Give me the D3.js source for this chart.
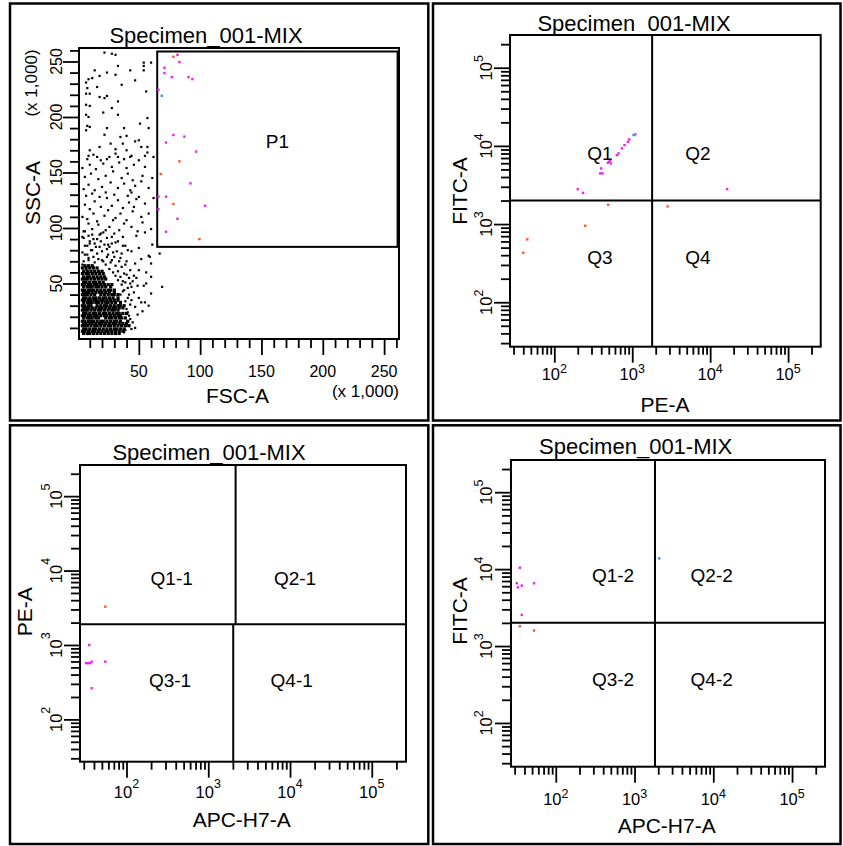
<!DOCTYPE html>
<html>
<head>
<meta charset="utf-8">
<script src="https://cdn.jsdelivr.net/npm/d3@7"></script>
<style>
  body { margin: 0; background: #fff; }
  svg { display: block; }
  text { font-family: "Liberation Sans", Arial, sans-serif; fill: #000; }
</style>
</head>
<body>
<svg width="843" height="846"></svg>
<script>
const svg = d3.select('svg');

// ---------- data ----------
const specimen = 'Specimen_001-MIX';
const linTicks = [50, 100, 150, 200, 250]; // FSC-A / SSC-A, (x 1,000)
const decades = [2, 3, 4, 5];              // 10^n on the log axes
const logDomain = [27, 262144];

// P1 gate: FSC from..to, SSC from..to (x 1,000)
const gateP1 = [65, 261, 83, 259];

// quadrant splits: [x upper half, x lower half, y]
const quadP2 = [1800, 1800, 2000];
const quadP3 = [2160, 2020, 1900];
const quadP4 = [1820, 1820, 2010];
const namesP2 = ['Q1', 'Q2', 'Q3', 'Q4'];
const namesP3 = ['Q1-1', 'Q2-1', 'Q3-1', 'Q4-1'];
const namesP4 = ['Q1-2', 'Q2-2', 'Q3-2', 'Q4-2'];

// panel 1 events, [FSC, SSC] x 1,000
const p1Sparse = [
  [22,258],[28,257],[31,256],[60,249],[54,249],[54,246],[54,242],[33,246],[43,242],[14,242],
  [24,240],[31,238],[18,237],[9,234],[12,235],[7,231],[47,233],[36,229],[8,226],[16,227],
  [56,223],[7,221],[18,218],[22,217],[24,219],[10,221],[33,214],[7,211],[10,210],[28,208],
  [21,204],[33,202],[7,202],[9,200],[57,199],[51,194],[38,190],[58,190],[24,190],[8,192],
  [10,191],[7,188],[22,184],[35,182],[40,183],[47,178],[27,176],[37,176],[50,179],[57,173],
  [18,173],[31,171],[40,170],[52,173],[10,170],[9,165],[16,164],[24,162],[33,164],[43,164],
  [55,165],[62,164],
  [8,162],[13,166],[19,161],[26,164],[31,167],[38,162],[44,165],[50,161],[57,168],
  [4,154],[10,157],[15,153],[21,158],[28,155],[34,159],[40,154],[46,157],[55,155],
  [6,146],[11,149],[17,144],[23,147],[29,151],[36,145],[41,149],[45,143],[53,147],[61,145],
  [5,135],[9,139],[14,134],[20,137],[27,141],[33,136],[38,140],[43,134],[47,138],[52,142],[58,136],
  [7,129],[12,131],[18,128],[23,132],[30,130],[41,129],[44,132],[50,128],[62,127],
  [6,121],[10,117],[14,124],[19,119],[24,127],[28,120],[33,125],[37,118],[42,123],[46,119],
  [48,126],[55,122],
  [4,110],[8,108],[13,113],[16,106],[22,111],[25,116],[31,109],[35,113],[40,107],[45,115],
  [52,110],[58,113],
  [5,97],[9,104],[12,99],[17,103],[21,96],[26,101],[29,107],[34,98],[38,104],[44,101],
  [49,97],[53,105],[60,99],
  [5,91],[9,93],[13,90],[18,94],[24,91],[30,95],[37,92],[48,93],[55,96],
  [6,84],[10,86],[15,83],[19,88],[25,85],[31,87],[39,84],[50,82],[61,85],
  [4,78],[8,76],[12,80],[16,77],[20,79],[24,81],[29,78],[36,77],[44,79],[58,75],
  [5,70],[9,73],[14,69],[17,72],[21,70],[24,74],[28,71],[35,73],[40,70],[47,68],[52,72],
  [38,44],[41,46],[36,49],[33,53],[39,51],[43,50],[31,57],[35,56],[29,60],[26,63],
  [33,61],[38,59],[42,55],[45,52],[23,67],[27,69],[31,66],[36,65],[20,71],[25,76],
  [30,74],[34,70],[39,67],[43,62],[46,57],[49,48],[41,37],[43,31],[40,27],[42,21],
  [41,16],[44,9],[38,6],[37,43],[35,40],[39,34],[4,67],[7,63],[9,71],[13,74],
  [6,76],[11,80],[8,84],[14,86],[18,83],[22,85],[26,83],[16,90],[12,94],[6,97],
  [19,95],[23,98],[28,92],[33,88],[37,84],[41,80],[32,79],[28,86],[10,88],[4,92],
  [67,77],[69,47],[59,74],[60,68],[60,56],[56,50],[54,48],[60,41],[55,33],[47,29],
  [45,15],[50,37],[46,42],[58,30],[53,25],[49,22],[43,18],[40,12],[47,10],[52,33],
  [42,40],[56,60],[48,55],[44,47],[41,24],[39,8],[44,35],[37,52],[40,58],[50,62]
];
// dense core: [SSC, [FSC ...]]
const p1CoreRows = [
  [5, [5,8,10,13,16,19,22,25,28,31,34]],
  [7, [4,6,9,12,14,17,20,23,25,28,31,34,37]],
  [9, [5,7,10,13,15,18,21,24,27,30,32,35,38]],
  [12, [4,6,8,11,14,16,19,22,25,27,30,33,36,39,42]],
  [14, [5,7,10,12,15,18,20,23,26,29,31,34,37,40]],
  [16, [4,6,9,11,13,16,19,21,24,27,30,32,35,41]],
  [19, [5,8,10,12,15,17,23,26,28,31,34,36,39]],
  [21, [4,6,9,11,14,16,19,22,24,27,30,33,35]],
  [23, [5,7,10,13,15,18,21,23,26,29,32,34,37,40]],
  [26, [4,6,8,11,14,17,19,22,25,28,30,33]],
  [28, [5,7,9,12,15,18,20,23,26,29,31,34,37]],
  [30, [4,6,9,11,16,19,22,24,27,30,33,35,38]],
  [33, [5,8,10,12,15,17,20,23,25,28,31,35]],
  [35, [4,6,9,11,14,16,19,21,24,27,30,33]],
  [37, [5,7,10,13,15,18,21,23,26,29,33]],
  [40, [4,6,8,11,14,19,22,25,28,30,33]],
  [42, [5,7,9,12,15,18,20,23,26,30]],
  [44, [4,6,9,11,13,16,19,22,25,27,30]],
  [47, [5,8,10,12,15,17,20,23,27]],
  [49, [4,6,9,11,14,16,19,22,25,28]],
  [51, [5,7,10,13,15,18,21]],
  [54, [4,6,8,11,14,17,20,23]],
  [56, [5,8,10,13,16,19,22]],
  [59, [4,7,9,12,15,18,21]],
  [61, [5,8,11,14,17,20]],
  [64, [4,7,10,13,16]],
  [66, [6,9,12]]
];
const p1Magenta = [[81.5,256],[83.1,249.5],[70.9,244.3],[70.9,239.5],[76.9,235.9],[90.5,235.9],
  [93.7,234.1],[66,224.5],[78.2,183.8],[87.2,182.3],[72.2,177],[96.7,168.8],[92.1,140.2],
  [66,128.2],[72.2,128.2],[104.1,120],[66,117],[81.5,108.3],[72.2,96.6]];
const p1Orange = [[78.2,254.2],[83.1,160],[67.9,148.6],[78.2,121.6],[99.4,90]];
const p1Blue = [[68.7,219.1]];

// panel 2: [PE-A, FITC-A]
const p2Magenta = [[1094,14030],[916,12100],[881,11300],[796,10230],[738,9290],[667,8020],
  [635,7620],[521,6580],[506,6260],[532,5970],[487,6090],[399,5150],[388,4450],[415,4450],
  [200,2800],[234,2510],[16500,2800]];
const p2Orange = [[491,1766],[249,951],[2843,1683],[45,637],[40,430]];
const p2Blue = [[1040,13750]];

// panel 3: [APC-H7-A, PE-A]
const p3Magenta = [[35,1000],[32,570],[34,570],[36,570],[37.5,596],[55,596],[37.5,262]];
const p3Orange = [[55,3270]];

// panel 4: [APC-H7-A, FITC-A]
const p4Magenta = [[35,10440],[32,6550],[33,5800],[37,6100],[53,6550],[37,2540]];
const p4Orange = [[35,1810],[53,1590]];
const p4Blue = [[2060,13800]];

const MAGENTA = '#ee22ee', ORANGE = '#ff5522', BLUE = '#3a8cff';

// ---------- helpers ----------
const border = (b) => svg.append('rect')
  .attr('x', b[0]).attr('y', b[1]).attr('width', b[2] - b[0]).attr('height', b[3] - b[1])
  .attr('fill', 'none').attr('stroke', '#000').attr('stroke-width', 2.5);

const tickMarks = (g, axis, values, size) => {
  g.call(axis.tickValues(values).tickSize(size).tickFormat(''))
    .call(a => a.select('.domain').remove())
    .call(a => a.selectAll('line').attr('stroke', '#000').attr('stroke-width', 1.8));
};

const dots = (g, x, y, pts, color, size) => {
  g.append('g').selectAll('rect').data(pts).join('rect')
    .attr('x', d => x(d[0]) - size / 2)
    .attr('y', d => y(d[1]) - size / 2)
    .attr('width', size).attr('height', size)
    .attr('fill', color);
};

const label = (g, txt, x, y, size, anchor = 'middle') =>
  g.append('text').attr('x', x).attr('y', y).attr('font-size', size)
    .attr('text-anchor', anchor).text(txt);

const rotLabel = (g, txt, x, y, size) =>
  g.append('text').attr('transform', `translate(${x},${y}) rotate(-90)`)
    .attr('font-size', size).attr('text-anchor', 'middle').text(txt);

const supLabel = (g, transform, exp, raise) => {
  const t = g.append('text').attr('transform', transform)
    .attr('font-size', 16.5).attr('text-anchor', 'middle');
  t.append('tspan').text('10');
  t.append('tspan').attr('font-size', 12.5).attr('dy', -raise).text(exp);
};

// ---------- panel 1 (FSC-A vs SSC-A) ----------
(function () {
  const L = { box: [10, 3.5, 428.3, 420.5], frame: [79, 48, 399, 339] };
  const g = svg.append('g');
  border(L.box);
  const x = d3.scaleLinear().domain([0, 262.144]).range([77.5, 399]);
  const y = d3.scaleLinear().domain([0, 262.144]).range([339, 48]);

  const minors = x.ticks(26).filter(v => v > 0 && !linTicks.includes(v));
  tickMarks(g.append('g').attr('transform', 'translate(0,339)'), d3.axisBottom(x), minors, 9);
  tickMarks(g.append('g').attr('transform', 'translate(0,339)'), d3.axisBottom(x), linTicks, 16);
  tickMarks(g.append('g').attr('transform', 'translate(79,0)'), d3.axisLeft(y), minors, 9);
  tickMarks(g.append('g').attr('transform', 'translate(79,0)'), d3.axisLeft(y), linTicks, 16);

  linTicks.forEach(v => label(g, v, x(v), 377, 16));
  linTicks.forEach(v => rotLabel(g, v, 62, y(v), 16));

  const core = p1CoreRows.flatMap(([s, fs]) => fs.map(f => [f, s]));
  dots(g, x, y, p1Sparse, '#000', 2.2);
  dots(g, x, y, core, '#000', 3.2);

  g.append('rect')
    .attr('x', x(gateP1[0])).attr('y', y(gateP1[3]))
    .attr('width', x(gateP1[1]) - x(gateP1[0])).attr('height', y(gateP1[2]) - y(gateP1[3]))
    .attr('fill', 'none').attr('stroke', '#000').attr('stroke-width', 2);

  dots(g, x, y, p1Orange, ORANGE, 2.4);
  dots(g, x, y, p1Magenta, MAGENTA, 2.4);
  dots(g, x, y, p1Blue, BLUE, 2.4);

  g.append('rect').attr('x', L.frame[0]).attr('y', L.frame[1])
    .attr('width', L.frame[2] - L.frame[0]).attr('height', L.frame[3] - L.frame[1])
    .attr('fill', 'none').attr('stroke', '#000').attr('stroke-width', 2);

  label(g, 'P1', (x(gateP1[0]) + x(gateP1[1])) / 2, (y(gateP1[2]) + y(gateP1[3])) / 2 - 1, 19);
  label(g, specimen, 206, 43, 22);
  label(g, 'FSC-A', 237.5, 403, 21);
  label(g, '(x 1,000)', 399, 397, 17, 'end');
  rotLabel(g, 'SSC-A', 40, 193, 21);
  rotLabel(g, '(x 1,000)', 37, 83, 17);
})();

// ---------- log panels ----------
function logPanel(L, quad, names, series) {
  const g = svg.append('g');
  border(L.box);
  const [x0, y0, x1, y1] = L.frame;
  const x = d3.scaleLog().domain(logDomain).range([x0, x1]);
  const y = d3.scaleLog().domain(logDomain).range([y1, y0]);
  const majors = decades.map(d => 10 ** d);
  const minorsX = x.ticks().filter(v => v >= logDomain[0] && !majors.includes(v));
  const minorsY = y.ticks().filter(v => v >= logDomain[0] && !majors.includes(v));

  tickMarks(g.append('g').attr('transform', `translate(0,${y1})`), d3.axisBottom(x), minorsX, 8);
  tickMarks(g.append('g').attr('transform', `translate(0,${y1})`), d3.axisBottom(x), majors, 16);
  tickMarks(g.append('g').attr('transform', `translate(${x0},0)`), d3.axisLeft(y), minorsY, 9);
  tickMarks(g.append('g').attr('transform', `translate(${x0},0)`), d3.axisLeft(y), majors, 16);

  decades.forEach((d, i) => {
    supLabel(g, `translate(${x(majors[i])},${L.xLab})`, d, L.raiseX);
    supLabel(g, `translate(${L.yLab},${y(majors[i])}) rotate(-90)`, d, L.raiseY);
  });

  series.forEach(([pts, color]) => dots(g, x, y, pts, color, 2.4));

  // quadrant lines
  const qy = y(quad[2]);
  const line = (xa, ya, xb, yb) => g.append('line')
    .attr('x1', xa).attr('y1', ya).attr('x2', xb).attr('y2', yb)
    .attr('stroke', '#000').attr('stroke-width', 2);
  line(x(quad[0]), y0, x(quad[0]), qy);
  line(x(quad[1]), qy, x(quad[1]), y1);
  line(x0, qy, x1, qy);

  g.append('rect').attr('x', x0).attr('y', y0).attr('width', x1 - x0).attr('height', y1 - y0)
    .attr('fill', 'none').attr('stroke', '#000').attr('stroke-width', 2);

  names.forEach((n, i) => label(g, n, L.quadLab[i][0], L.quadLab[i][1], 19));
  label(g, specimen, L.title[0], L.title[1], 22);
  label(g, L.xTitle[0], L.xTitle[1], L.xTitle[2], 21);
  rotLabel(g, L.yTitle[0], L.yTitle[2], L.yTitle[1], 21);
}

logPanel({
  box: [433, 3.5, 840.5, 420.5], frame: [510, 35, 820.7, 346.7],
  xLab: 380, yLab: 492, raiseX: 7, raiseY: 9,
  quadLab: [[600, 160], [698, 160], [600, 264], [698, 264]],
  title: [634, 30.7], xTitle: ['PE-A', 665, 411.7], yTitle: ['FITC-A', 191, 467]
}, quadP2, namesP2, [[p2Orange, ORANGE], [p2Magenta, MAGENTA], [p2Blue, BLUE]]);

logPanel({
  box: [10, 425.3, 428.3, 844], frame: [80, 465, 406, 761.7],
  xLab: 798.3, yLab: 61.7, raiseX: 10, raiseY: 12,
  quadLab: [[171.7, 585], [295, 585], [170, 686.7], [291.7, 686.7]],
  title: [209, 460], xTitle: ['APC-H7-A', 241.7, 826.7], yTitle: ['PE-A', 611.7, 31.7]
}, quadP3, namesP3, [[p3Orange, ORANGE], [p3Magenta, MAGENTA]]);

logPanel({
  box: [433, 425.3, 840.5, 844], frame: [511, 460, 825, 766.7],
  xLab: 805, yLab: 491.7, raiseX: 7, raiseY: 9,
  quadLab: [[613, 582.3], [711.7, 582.3], [613, 685.7], [711.7, 685.7]],
  title: [635.7, 454], xTitle: ['APC-H7-A', 666.7, 833.3], yTitle: ['FITC-A', 611, 466.7]
}, quadP4, namesP4, [[p4Orange, ORANGE], [p4Magenta, MAGENTA], [p4Blue, BLUE]]);
</script>
</body>
</html>
